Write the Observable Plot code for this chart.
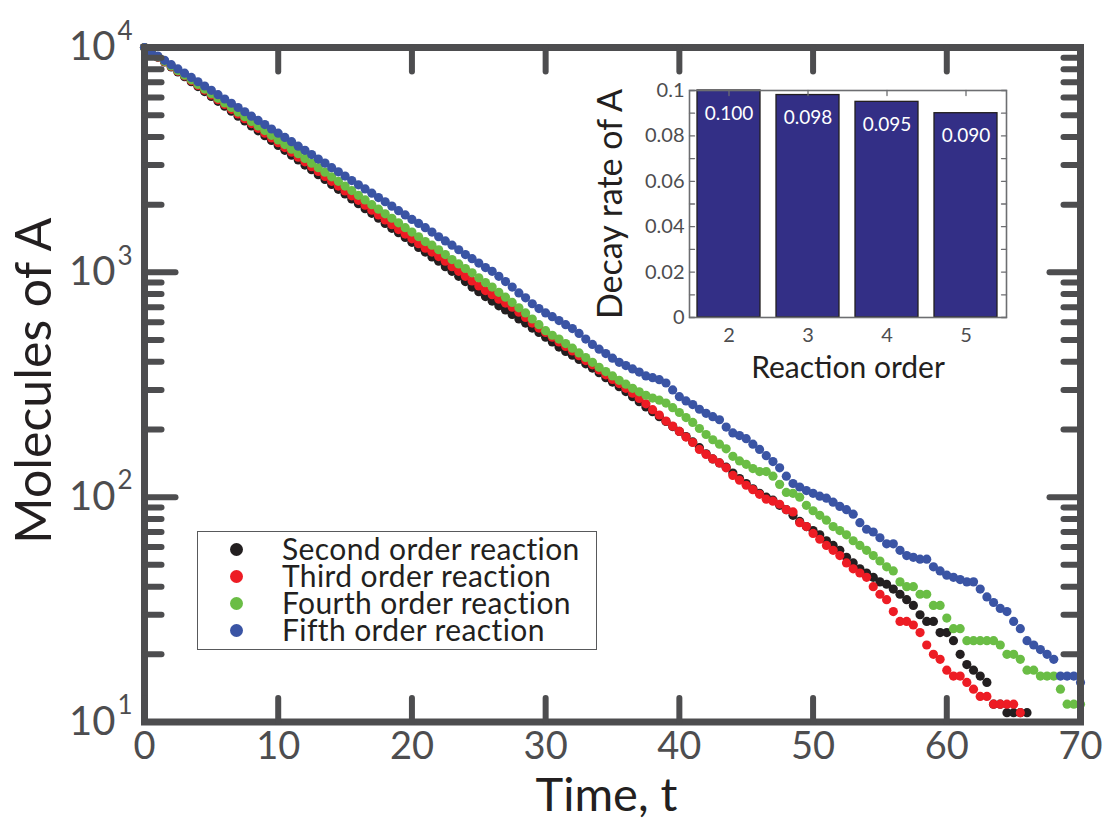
<!DOCTYPE html>
<html>
<head>
<meta charset="utf-8">
<script src="https://cdn.jsdelivr.net/npm/d3@7"></script>
<script src="https://cdn.jsdelivr.net/npm/@observablehq/plot@0.6"></script>
<style>
  body { margin: 0; background: #fff; }
  #wrap { position: relative; width: 1109px; height: 821px; font-family: Lato, sans-serif; overflow: hidden; }
  #main, #inset { position: absolute; }
  #main { left: 0; top: 0; }
  #inset { left: 560px; top: 60px; }
  #legend { position: absolute; left: 197px; top: 531px; width: 400px; height: 119px; box-sizing: border-box;
            border: 1.5px solid #58595b; background: #fff; }
  .ldot { position: absolute; left: 32px; width: 13px; height: 13px; border-radius: 50%; }
  #ltext { position: absolute; left: 84px; top: 3px; font-size: 30px; line-height: 27px; letter-spacing: 0.4px;
           color: #231f20; white-space: pre; }
</style>
</head>
<body>
<div id="wrap">
  <div id="main"></div>
  <div id="inset"></div>
  <div id="legend"><div id="ltext"></div></div>
</div>
<script>
// ---------------- data ----------------
const times = [0,0.5,1,1.5,2,2.5,3,3.5,4,4.5,5,5.5,6,6.5,7,7.5,8,8.5,9,9.5,10,
  10.5,11,11.5,12,12.5,13,13.5,14,14.5,15,15.5,16,16.5,17,17.5,18,18.5,19,19.5,20,
  20.5,21,21.5,22,22.5,23,23.5,24,24.5,25,25.5,26,26.5,27,27.5,28,28.5,29,29.5,30,
  30.5,31,31.5,32,32.5,33,33.5,34,34.5,35,35.5,36,36.5,37,37.5,38,38.5,39,39.5,40,
  40.5,41,41.5,42,42.5,43,43.5,44,44.5,45,45.5,46,46.5,47,47.5,48,48.5,49,49.5,50,
  50.5,51,51.5,52,52.5,53,53.5,54,54.5,55,55.5,56,56.5,57,57.5,58,58.5,59,59.5,60,
  60.5,61,61.5,62,62.5,63,63.5,64,64.5,65,65.5,66,66.5,67,67.5,68,68.5,69,69.5,70];

const secondOrder = [10000,9520,9060,8620,8200,7790,7410,7040,6700,6370,6060,5760,5480,5210,4950,4710,4480,4260,4050,3860,3670,
  3490,3320,3160,3000,2860,2720,2590,2460,2340,2230,2120,2020,1920,1830,1740,1650,1570,1500,1430,1360,
  1290,1230,1170,1120,1060,1010,960,910,860,820,780,745,710,680,650,620,595,565,540,515,
  490,465,445,428,410,392,375,358,340,325,310,295,280,266,252,240,228,217,206,196,
  186,176,166,156,148,142,136,128,121,115,109,104,100,97,92,88,83,78,74,71,
  68,64,61,58,54,51,48,46,44,42,41,39,37,35,33,30,28,28,25,25,
  23,20,18,17,16,15,12,12,11,11,11,11,null,null,null,null,null,null,null,null];

const thirdOrder = [10000,9530,9080,8650,8240,7850,7480,7120,6780,6460,6150,5860,5580,5310,5060,4820,4590,4370,4160,3960,3770,
  3590,3420,3250,3100,2950,2810,2670,2540,2420,2300,2190,2090,1990,1890,1800,1710,1630,1550,1480,1410,
  1340,1280,1230,1175,1120,1060,1010,960,915,870,830,795,760,730,700,665,630,595,565,540,
  515,490,468,447,426,405,388,368,350,334,320,305,290,275,260,245,232,218,207,196,
  185,175,163,155,148,142,135,125,119,113,108,103,98,96,93,88,86,77,74,69,
  65,61,58,55,51,48,46,44,40,37,35,31,28,28,27,25,22,20,19,17,
  16,16,15,14,13,13,12,12,12,12,11,null,null,null,null,null,null,null,null,null];

const fourthOrder = [10000,9540,9100,8680,8280,7890,7530,7180,6850,6530,6230,5940,5670,5410,5160,4920,4690,4480,4270,4070,3880,
  3700,3530,3370,3210,3060,2920,2790,2660,2540,2420,2310,2200,2100,2000,1910,1820,1740,1660,1580,1510,
  1440,1370,1320,1260,1200,1140,1090,1040,995,945,900,860,815,775,735,695,660,620,585,550,
  525,505,482,460,438,418,398,378,362,346,331,318,305,294,284,276,270,262,250,238,
  226,215,202,190,180,172,164,152,145,140,134,130,130,124,114,105,104,100,92,87,
  83,79,74,71,68,64,61,58,55,52,49,47,42,40,40,37,37,33,33,29,
  26,26,23,23,23,23,23,22,20,20,19,17,17,16,16,16,14,12,12,12];

const fifthOrder = [10000,9570,9160,8770,8390,8030,7690,7360,7040,6740,6450,6170,5900,5650,5410,5180,4950,4740,4540,4340,4160,
  3980,3810,3640,3490,3340,3190,3060,2920,2800,2680,2560,2450,2350,2250,2150,2060,1970,1880,1800,1720,
  1650,1580,1510,1440,1380,1320,1260,1200,1150,1100,1050,1010,960,910,860,810,770,725,690,660,
  635,610,585,562,535,505,478,455,435,415,398,385,372,360,346,340,333,322,300,280,
  268,258,246,236,228,221,205,193,188,182,172,163,153,144,135,124,115,111,107,104,
  101,99,95,91,88,84,77,72,70,66,62,62,58,55,54,53,53,49,47,45,
  44,43,42,42,39,36,34,32,31,28,26,23,22,21,20,19,16,16,16,15];

const seriesNames = ["Second order reaction", "Third order reaction", "Fourth order reaction", "Fifth order reaction"];
const seriesColors = ["#231f20", "#ed1c24", "#6abd45", "#3a54a4"];

const xTicks = [0, 10, 20, 30, 40, 50, 60, 70];
const yMajor = [10, 100, 1000, 10000];
const yExponents = ["1", "2", "3", "4"];
const yMinor = [20,30,40,50,60,70,80,90,200,300,400,500,600,700,800,900,2000,3000,4000,5000,6000,7000,8000,9000];

const orders = [2, 3, 4, 5];
const decayRates = [0.100, 0.098, 0.095, 0.090];
const insetYTicks = [0, 0.02, 0.04, 0.06, 0.08, 0.1];
const insetYMinor = [0.01, 0.03, 0.05, 0.07, 0.09];

// ---------------- build ----------------
const axisGray = "#4d4d4f";
const textDark = "#231f20";
const font = "Lato, sans-serif";
const tickShape = {draw(ctx, l) { ctx.moveTo(0, 0); ctx.lineTo(0, -l); }};

const seriesValues = [secondOrder, thirdOrder, fourthOrder, fifthOrder];
const rows = seriesValues.flatMap((vals, s) =>
  vals.map((n, i) => ({t: times[i], n, series: seriesNames[s]})).filter(d => d.n != null));

function ticks(data, opts) {
  return Plot.vector(data, {anchor: "start", shape: tickShape, stroke: opts.stroke, strokeWidth: opts.sw,
    length: opts.len, rotate: opts.rot, frameAnchor: opts.fa,
    ...(opts.ch === "x" ? {x: d => d} : {y: d => d})});
}

const main = Plot.plot({
  width: 1109, height: 821,
  marginLeft: 144, marginRight: 29, marginTop: 47, marginBottom: 99.5,
  x: {domain: [0, 70], axis: null},
  y: {type: "log", domain: [10, 10000], axis: null},
  color: {domain: seriesNames, range: seriesColors},
  style: {fontFamily: font, background: "transparent", overflow: "visible"},
  marks: [
    Plot.dot(rows, {x: "t", y: "n", fill: "series", r: 4.6, stroke: null}),
    Plot.frame({stroke: axisGray, strokeWidth: 7}),
    ticks(xTicks, {ch: "x", fa: "bottom", rot: 0, len: 24, stroke: axisGray, sw: 6}),
    ticks(xTicks, {ch: "x", fa: "top", rot: 180, len: 24, stroke: axisGray, sw: 6}),
    ticks(yMajor, {ch: "y", fa: "left", rot: 90, len: 31, stroke: axisGray, sw: 6}),
    ticks(yMinor, {ch: "y", fa: "left", rot: 90, len: 17, stroke: axisGray, sw: 6}),
    ticks(yMajor, {ch: "y", fa: "right", rot: -90, len: 31, stroke: axisGray, sw: 6}),
    ticks(yMinor, {ch: "y", fa: "right", rot: -90, len: 17, stroke: axisGray, sw: 6}),
    Plot.text(xTicks, {x: d => d, frameAnchor: "bottom", dy: 25, lineAnchor: "middle", textAnchor: "middle",
      text: d => String(d), fontSize: 38, fill: axisGray, fontFamily: font}),
    Plot.text(yMajor, {y: d => d, frameAnchor: "left", dx: -29, lineAnchor: "middle", textAnchor: "end",
      text: () => "10", fontSize: 40, fill: axisGray, fontFamily: font}),
    Plot.text(yMajor, {y: d => d, frameAnchor: "left", dx: -27, dy: -16, lineAnchor: "middle", textAnchor: "start",
      text: (d, i) => yExponents[i], fontSize: 26, fill: axisGray, fontFamily: font}),
    Plot.text(["Time, t"], {frameAnchor: "bottom", dx: -6, dy: 73.5, lineAnchor: "middle", textAnchor: "middle",
      text: d => d, fontSize: 47, fill: textDark, fontFamily: font}),
    Plot.text(["Molecules of A"], {frameAnchor: "left", dx: -110, dy: -4, rotate: -90, lineAnchor: "middle",
      textAnchor: "middle", text: d => d, fontSize: 50, fill: textDark, fontFamily: font})
  ]
});
document.getElementById("main").appendChild(main);

const inset = Plot.plot({
  width: 470, height: 340,
  marginLeft: 129, marginRight: 24, marginTop: 30, marginBottom: 83,
  x: {type: "band", domain: orders, paddingInner: 0.2, paddingOuter: 0.1, axis: null},
  y: {domain: [0, 0.1], axis: null},
  style: {fontFamily: font, background: "transparent", overflow: "visible"},
  marks: [
    Plot.barY(orders, {x: d => d, y: (d, i) => decayRates[i], fill: "#332f86", stroke: textDark, strokeWidth: 1.3}),
    Plot.frame({stroke: "#6d6e71", strokeWidth: 1.6}),
    ticks(insetYTicks, {ch: "y", fa: "left", rot: 90, len: 5, stroke: "#6d6e71", sw: 1.3}),
    ticks(insetYMinor, {ch: "y", fa: "left", rot: 90, len: 5, stroke: "#6d6e71", sw: 1.3}),
    ticks(insetYTicks, {ch: "y", fa: "right", rot: -90, len: 5, stroke: "#6d6e71", sw: 1.3}),
    ticks(insetYMinor, {ch: "y", fa: "right", rot: -90, len: 5, stroke: "#6d6e71", sw: 1.3}),
    ticks(orders, {ch: "x", fa: "top", rot: 180, len: 5, stroke: "#6d6e71", sw: 1.3}),
    Plot.text(orders, {x: d => d, y: (d, i) => decayRates[i], dy: 23, lineAnchor: "middle",
      text: (d, i) => d3.format(".3f")(decayRates[i]), fill: "white", fontSize: 19, fontFamily: font}),
    Plot.text(insetYTicks, {y: d => d, frameAnchor: "left", dx: -5, lineAnchor: "middle", textAnchor: "end",
      text: d => String(d), fontSize: 20, fill: axisGray, fontFamily: font}),
    Plot.text(orders, {x: d => d, frameAnchor: "bottom", dy: 18.5, lineAnchor: "middle", textAnchor: "middle",
      text: d => String(d), fontSize: 20, fill: axisGray, fontFamily: font}),
    Plot.text(["Decay rate of A"], {frameAnchor: "left", dx: -78, rotate: -90, lineAnchor: "middle",
      textAnchor: "middle", text: d => d, fontSize: 34, fill: textDark, fontFamily: font}),
    Plot.text(["Reaction order"], {frameAnchor: "bottom", dy: 51, lineAnchor: "middle", textAnchor: "middle",
      text: d => d, fontSize: 30, fill: textDark, fontFamily: font})
  ]
});
document.getElementById("inset").appendChild(inset);

// legend: one text block with one line per series, plus coloured dots
const legend = document.getElementById("legend");
document.getElementById("ltext").textContent = seriesNames.join("\n");
seriesColors.forEach((c, i) => {
  const dot = document.createElement("span");
  dot.className = "ldot";
  dot.style.top = (11 + i * 27) + "px";
  dot.style.background = c;
  legend.appendChild(dot);
});
</script>
</body>
</html>
